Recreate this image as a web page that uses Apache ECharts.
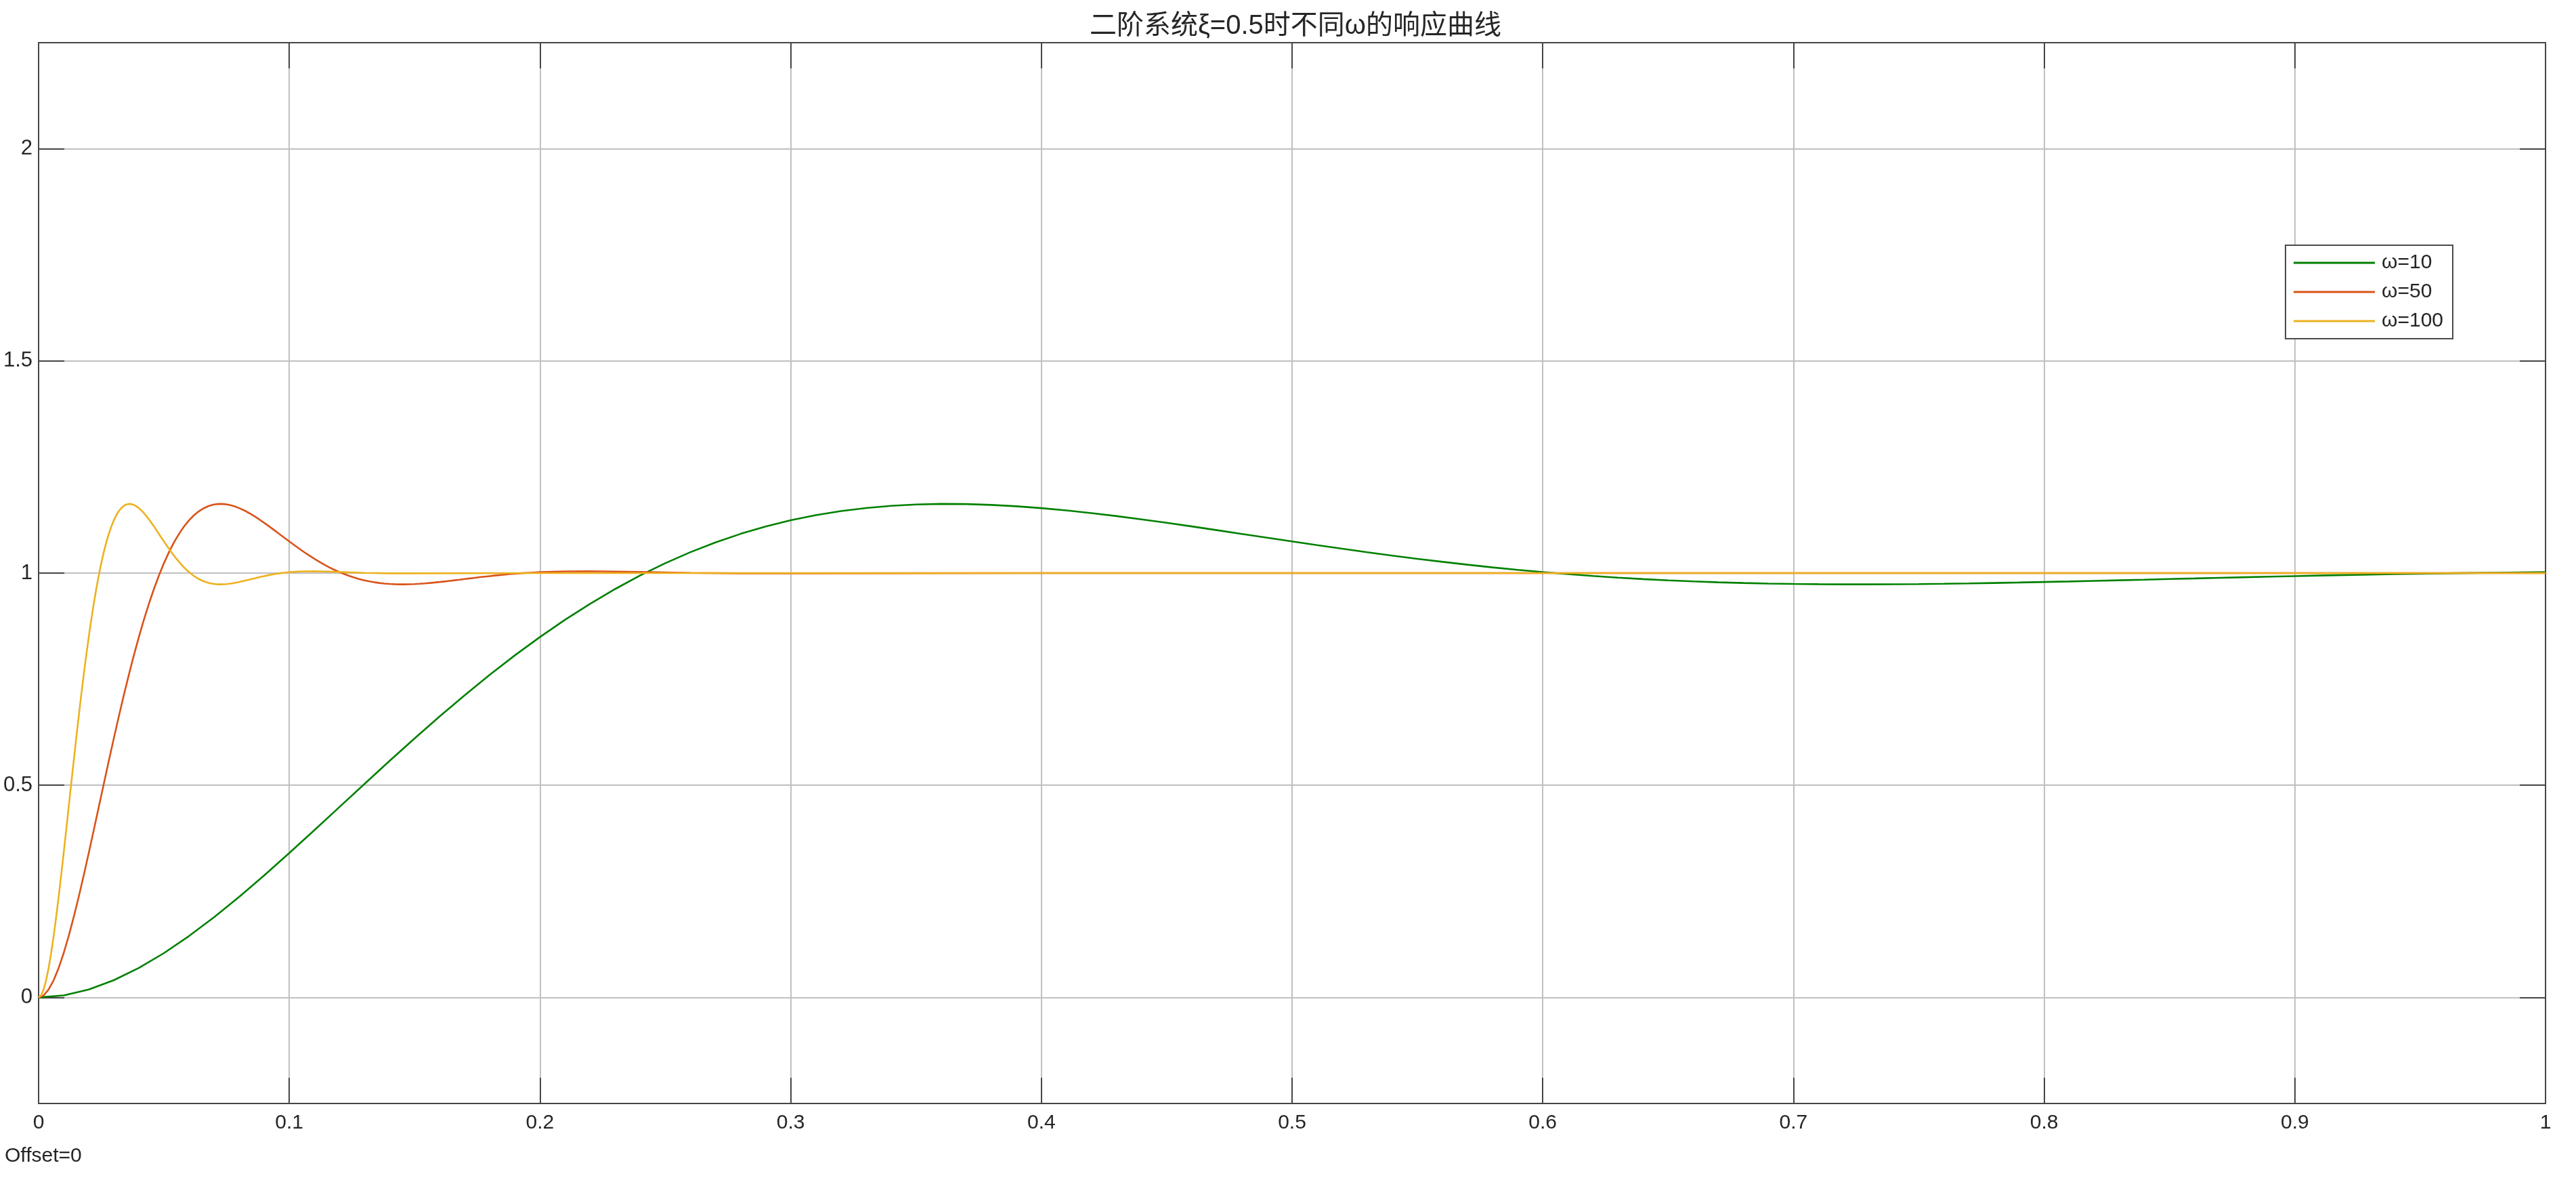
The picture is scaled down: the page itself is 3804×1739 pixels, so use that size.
<!DOCTYPE html>
<html>
<head>
<meta charset="utf-8">
<script src="https://cdn.jsdelivr.net/npm/echarts@6/dist/echarts.min.js"></script>
<style>
html,body{margin:0;padding:0;background:#fff;}
#c{width:3804px;height:1739px;}
</style>
</head>
<body>
<div id="c"></div>
<script>
// ---- data ----
const titleText = '二阶系统ξ=0.5时不同ω的响应曲线';
const seriesNames = ['ω=10', 'ω=50', 'ω=100'];
const xTicks = [0, 0.1, 0.2, 0.3, 0.4, 0.5, 0.6, 0.7, 0.8, 0.9, 1];
const yTicks = [0, 0.5, 1, 1.5, 2];

// ω=10 : samples every 0.01 s from 0 to 1
const step10 = 0.01;
const y10 = [0,0.0046,0.0187,0.0405,0.0694,0.1044,0.1446,0.1891,0.2370,0.2877,
0.3403,0.3942,0.4486,0.5032,0.5573,0.6105,0.6623,0.7124,0.7604,0.8062,
0.8494,0.8900,0.9277,0.9625,0.9945,1.0234,1.0493,1.0723,1.0924,1.1097,
1.1244,1.1365,1.1460,1.1533,1.1585,1.1616,1.1630,1.1626,1.1607,1.1575,
1.1531,1.1477,1.1413,1.1343,1.1266,1.1184,1.1100,1.1012,1.0923,1.0834,
1.0746,1.0659,1.0574,1.0491,1.0412,1.0336,1.0265,1.0197,1.0134,1.0076,
1.0023,0.9975,0.9931,0.9892,0.9858,0.9829,0.9804,0.9783,0.9766,0.9753,
0.9744,0.9738,0.9735,0.9735,0.9737,0.9741,0.9748,0.9757,0.9767,0.9778,
0.9790,0.9803,0.9817,0.9831,0.9845,0.9860,0.9874,0.9889,0.9903,0.9916,
0.9929,0.9942,0.9954,0.9965,0.9975,0.9985,0.9994,1.0002,1.0009,1.0016,1.0022];

// ω=50 : samples every 0.002 s from 0 to 0.2, then a sparse tail
const step50 = 0.002;
const y50 = [0,0.0046,0.0187,0.0405,0.0694,0.1044,0.1446,0.1891,0.2370,0.2877,
0.3403,0.3942,0.4486,0.5032,0.5573,0.6105,0.6623,0.7124,0.7604,0.8062,
0.8494,0.8900,0.9277,0.9625,0.9945,1.0234,1.0493,1.0723,1.0924,1.1097,
1.1244,1.1365,1.1460,1.1533,1.1585,1.1616,1.1630,1.1626,1.1607,1.1575,
1.1531,1.1477,1.1413,1.1343,1.1266,1.1184,1.1100,1.1012,1.0923,1.0834,
1.0746,1.0659,1.0574,1.0491,1.0412,1.0336,1.0265,1.0197,1.0134,1.0076,
1.0023,0.9975,0.9931,0.9892,0.9858,0.9829,0.9804,0.9783,0.9766,0.9753,
0.9744,0.9738,0.9735,0.9735,0.9737,0.9741,0.9748,0.9757,0.9767,0.9778,
0.9790,0.9803,0.9817,0.9831,0.9845,0.9860,0.9874,0.9889,0.9903,0.9916,
0.9929,0.9942,0.9954,0.9965,0.9975,0.9985,0.9994,1.0002,1.0009,1.0016,1.0022];
const t50Tail = [0.21,0.22,0.23,0.24,0.26,0.28,0.30,0.4,0.6,0.8,1.0];
const y50Tail = [1.0040,1.0043,1.0037,1.0026,1.0004,0.9994,0.9994,1.0,1.0,1.0,1.0];

// ω=100 : samples every 0.001 s from 0 to 0.1, then a sparse tail
const step100 = 0.001;
const y100 = [0,0.0046,0.0187,0.0405,0.0694,0.1044,0.1446,0.1891,0.2370,0.2877,
0.3403,0.3942,0.4486,0.5032,0.5573,0.6105,0.6623,0.7124,0.7604,0.8062,
0.8494,0.8900,0.9277,0.9625,0.9945,1.0234,1.0493,1.0723,1.0924,1.1097,
1.1244,1.1365,1.1460,1.1533,1.1585,1.1616,1.1630,1.1626,1.1607,1.1575,
1.1531,1.1477,1.1413,1.1343,1.1266,1.1184,1.1100,1.1012,1.0923,1.0834,
1.0746,1.0659,1.0574,1.0491,1.0412,1.0336,1.0265,1.0197,1.0134,1.0076,
1.0023,0.9975,0.9931,0.9892,0.9858,0.9829,0.9804,0.9783,0.9766,0.9753,
0.9744,0.9738,0.9735,0.9735,0.9737,0.9741,0.9748,0.9757,0.9767,0.9778,
0.9790,0.9803,0.9817,0.9831,0.9845,0.9860,0.9874,0.9889,0.9903,0.9916,
0.9929,0.9942,0.9954,0.9965,0.9975,0.9985,0.9994,1.0002,1.0009,1.0016,1.0022];
const t100Tail = [0.105,0.11,0.115,0.12,0.13,0.14,0.15,0.2,0.4,0.6,0.8,1.0];
const y100Tail = [1.0040,1.0043,1.0037,1.0026,1.0004,0.9994,0.9994,1.0,1.0,1.0,1.0,1.0];

// ---- build ----
function build(vals, step, tailT, tailY) {
  const d = vals.map((v, i) => [+(i * step).toFixed(4), v]);
  if (tailT) tailT.forEach((t, i) => d.push([t, tailY[i]]));
  return d;
}
const data10 = build(y10, step10);
const data50 = build(y50, step50, t50Tail, y50Tail);
const data100 = build(y100, step100, t100Tail, y100Tail);

const colors = ['#008000', '#D95319', '#EDB120'];
const axisColor = '#454545';
const textColor = '#262626';
const gridColor = '#c0c0c0';
const font = '"Liberation Sans", Arial, "Noto Sans CJK SC", sans-serif';

function isTick(list, v) { return list.some(t => Math.abs(t - v) < 1e-9); }

const chart = echarts.init(document.getElementById('c'), null, {renderer: 'canvas'});
function common() {
  return {
    axisLine: {show: true, onZero: false, lineStyle: {color: axisColor, width: 2}},
    axisTick: {show: true, inside: true, length: 38, lineStyle: {color: axisColor, width: 2}}
  };
}
chart.setOption({
  animation: false,
  backgroundColor: '#ffffff',
  title: {
    text: titleText,
    left: 1908, top: 14, textAlign: 'center',
    textStyle: {fontFamily: font, fontSize: 40, fontWeight: 'normal', color: textColor}
  },
  legend: {
    show: true,
    orient: 'vertical',
    left: 3375, top: 362,
    padding: [11, 14, 11, 12],
    icon: 'rect',
    itemWidth: 120, itemHeight: 3, itemGap: 13,
    backgroundColor: '#ffffff',
    borderColor: '#4a4a4a', borderWidth: 2, borderRadius: 0,
    textStyle: {fontFamily: font, fontSize: 30, color: textColor, lineHeight: 30, padding: [0, 0, 0, 5]},
    data: seriesNames.map((n, i) => ({name: n, itemStyle: {color: colors[i], borderWidth: 0}}))
  },
  grid: {left: 57, top: 63, right: 45, bottom: 110},
  xAxis: [
    Object.assign({
      type: 'value', min: 0, max: 1, interval: 0.1, position: 'bottom',
      axisLabel: {fontFamily: font, fontSize: 30, color: textColor, margin: 14,
        formatter: v => isTick(xTicks, v) ? String(+v.toFixed(1)) : ''},
      splitLine: {show: true, lineStyle: {color: gridColor, width: 2}}
    }, common()),
    Object.assign({
      type: 'value', min: 0, max: 1, interval: 0.1, position: 'top',
      axisLabel: {show: false}, splitLine: {show: false}
    }, common())
  ],
  yAxis: [
    Object.assign({
      type: 'value', min: -0.25, max: 2.25, minInterval: 0.5, maxInterval: 0.5, position: 'left',
      axisLabel: {fontFamily: font, fontSize: 31, color: textColor, margin: 9,
        formatter: v => isTick(yTicks, v) ? String(+v.toFixed(2)) : ''},
      splitLine: {show: true, lineStyle: {color: gridColor, width: 2}}
    }, common()),
    Object.assign({
      type: 'value', min: -0.25, max: 2.25, minInterval: 0.5, maxInterval: 0.5, position: 'right',
      axisLabel: {show: false}, splitLine: {show: false}
    }, common())
  ],
  graphic: [{
    type: 'text', left: 7, top: 1692,
    style: {text: 'Offset=0', fontFamily: font, fontSize: 30, fill: textColor}
  }],
  series: [
    {name: seriesNames[0], type: 'line', data: data10, symbol: 'none', lineStyle: {color: colors[0], width: 2.6}, itemStyle: {color: colors[0]}},
    {name: seriesNames[1], type: 'line', data: data50, symbol: 'none', lineStyle: {color: colors[1], width: 2.6}, itemStyle: {color: colors[1]}},
    {name: seriesNames[2], type: 'line', data: data100, symbol: 'none', lineStyle: {color: colors[2], width: 2.6}, itemStyle: {color: colors[2]}}
  ]
});
</script>
</body>
</html>
